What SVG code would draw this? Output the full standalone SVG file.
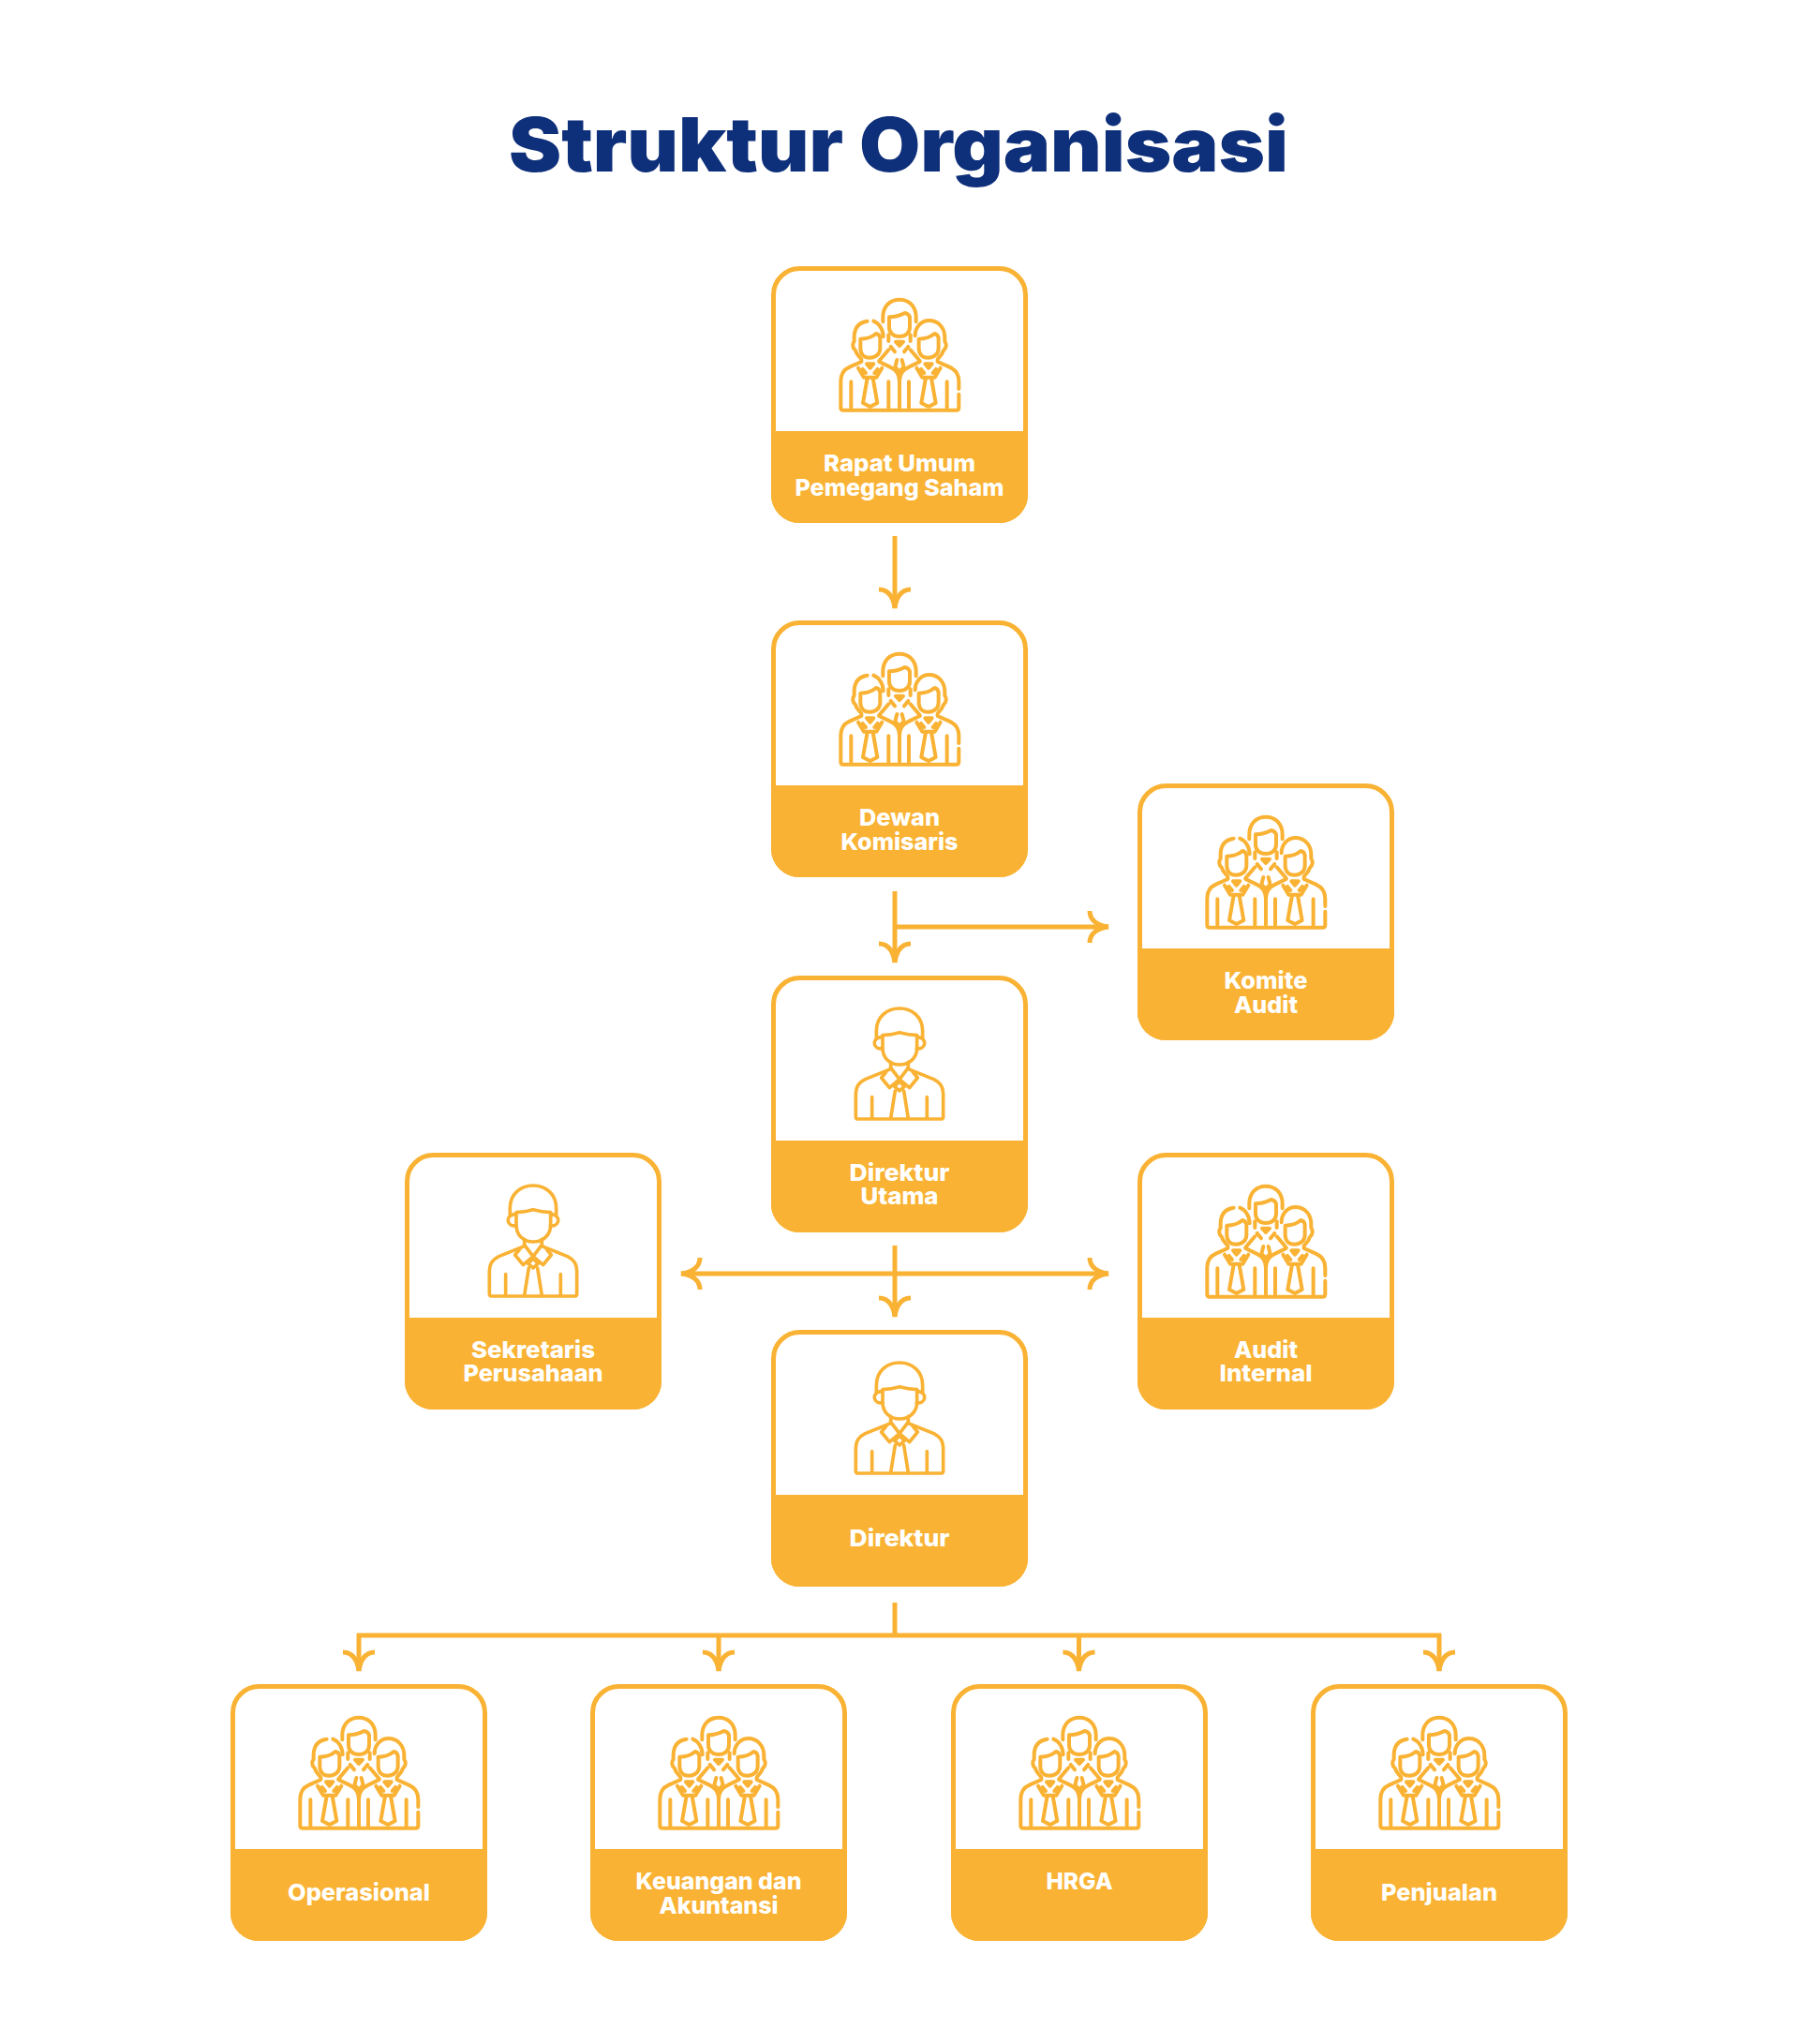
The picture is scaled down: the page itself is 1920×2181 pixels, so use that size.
<svg xmlns="http://www.w3.org/2000/svg" width="1920" height="2181" viewBox="0 0 1920 2181">
<style>
.title{font-family:"Inter","Liberation Sans",sans-serif;font-weight:900;font-size:80px;fill:#0e2f7a;text-anchor:middle}
.lbl{font-family:"Inter","Liberation Sans",sans-serif;font-weight:800;font-size:25px;fill:#fff;text-anchor:middle}
.box{fill:#fff;stroke:#f9b233;stroke-width:5}
.band{fill:#f9b233}
.ic{fill:none;stroke:#f9b233;stroke-width:11;stroke-linejoin:round;stroke-linecap:round}
.cn{fill:none;stroke:#f9b233;stroke-width:5}
</style>
<defs>
<marker id="head" viewBox="-24 -20 28 40" refX="0" refY="0" markerWidth="28" markerHeight="40" markerUnits="userSpaceOnUse" orient="auto-start-reverse" overflow="visible">
<path d="M-20,-17C-20,-6 -10,-1 0,0C-10,1 -20,6 -20,17" fill="none" stroke="#f9b233" stroke-width="5"/>
</marker>
<g id="card">
<rect class="box" x="2.5" y="2.500" width="269" height="269" rx="28"/>
<path class="band" d="M0,176H274V244a30,30 0 0 1 -30,30H30a30,30 0 0 1 -30,-30Z"/>
</g>
<g id="single" transform="translate(-80 9) scale(.3333)">
<g class="ic">
<path d="M166,172V150C166,105 200,78 240,78C280,78 314,105 314,150V172"/>
<path d="M180,170C165,172 158,182 160,192C162,202 172,208 185,206"/>
<path d="M300,170C315,172 322,182 320,192C318,202 308,208 295,206"/>
<path d="M186,164Q215,162 240,155Q268,162 296,164V205C296,238 270,258 240,258C210,258 186,238 186,205Z"/>
<path d="M212,250V272L130,305C110,315 100,330 100,350V425Q100,432 108,432H372Q380,432 380,425V350C380,330 370,315 350,305L268,272V250"/>
<path d="M212,268L240,305L268,268M197,282L182,300L208,332L240,305L272,332L298,300L283,282"/>
<path d="M240,312L224,328L240,342L256,328Z"/>
<path d="M226,342L212,430M254,342L268,430M152,362V430M328,362V430"/>
</g>
</g>
<g id="group" transform="translate(-160 -14) scale(.3333)">
<g class="ic" style="stroke-width:12">
<path d="M427,220V205C427,170 450,149 480,149C510,149 533,170 533,205V220"/>
<path d="M447,205Q472,205 497,192Q510,195 513,205V238C513,255 500,267 480,267C460,267 447,255 447,238Z"/>
<path d="M445,262V282M515,262V282M468,284H492L480,297ZM452,300L465,316M508,300L495,316M472,342L466,365L480,380L494,365L488,342M415,345L445,310M545,345L515,310"/>
<path d="M377,218C350,222 335,240 335,270V283C328,290 330,305 338,310C342,325 350,330 358,340V348L320,365C300,374 292,388 292,410V495Q292,503 300,503H662Q670,503 670,495V452M670,435V410C670,388 660,374 640,365L602,348V340C612,330 618,322 622,310C630,305 632,290 625,283V270C625,240 605,216 575,216C550,216 530,236 530,265"/>
<path d="M397,218C415,225 428,245 428,268"/>
<path d="M355,275Q385,275 405,258Q416,260 418,272V305C418,322 405,335 385,335C365,335 355,322 355,305Z"/>
<path d="M542,275Q572,275 592,258Q603,260 605,272V305C605,322 592,335 572,335C552,335 542,322 542,305Z"/>
<path d="M415,348L450,365C470,374 480,388 480,410V495M545,348L510,365C490,374 480,388 480,410"/>
<path d="M375,355H397L386,368ZM562,355H584L573,368Z"/>
<path d="M348,368L366,398H406L424,368M535,368L553,398H593L611,368M362,372L372,384M410,372L400,384M549,372L559,384M597,372L587,384"/>
<path d="M377,400L363,480L386,492L409,480L395,400M564,400L550,480L573,492L596,480L582,400"/>
<path d="M325,495V412M445,495V412M510,495V412M632,495V412"/>
</g>
</g>
</defs>
<text class="title" x="959" y="183" textLength="832" lengthAdjust="spacingAndGlyphs">Struktur Organisasi</text>
<g id="connectors" class="cn">
<path d="M955,572V649" marker-end="url(#head)"/>
<path d="M955,951V1027" marker-end="url(#head)"/>
<path d="M955,989H1183" marker-end="url(#head)"/>
<path d="M955,1329V1405" marker-end="url(#head)"/>
<path d="M727,1359H1183" marker-start="url(#head)" marker-end="url(#head)"/>
<path d="M955,1710V1745"/>
<path d="M381,1745H1538"/>
<path d="M383,1743V1783" marker-end="url(#head)"/>
<path d="M767,1745V1783" marker-end="url(#head)"/>
<path d="M1151.500,1745V1783" marker-end="url(#head)"/>
<path d="M1536,1743V1783" marker-end="url(#head)"/>
</g>
<g id="n-rups" transform="translate(823 284)"><use href="#card"/><use href="#group" x="137"/><text class="lbl"><tspan x="137" y="219" textLength="162" lengthAdjust="spacingAndGlyphs">Rapat Umum</tspan><tspan x="137" y="244.500" textLength="223" lengthAdjust="spacingAndGlyphs">Pemegang Saham</tspan></text></g>
<g id="n-dewan" transform="translate(823 662)"><use href="#card"/><use href="#group" x="137"/><text class="lbl"><tspan x="137" y="219" textLength="86" lengthAdjust="spacingAndGlyphs">Dewan</tspan><tspan x="137" y="244.500" textLength="125" lengthAdjust="spacingAndGlyphs">Komisaris</tspan></text></g>
<g id="n-komite" transform="translate(1214 836)"><use href="#card"/><use href="#group" x="137"/><text class="lbl"><tspan x="137" y="219" textLength="89" lengthAdjust="spacingAndGlyphs">Komite</tspan><tspan x="137" y="244.500" textLength="68" lengthAdjust="spacingAndGlyphs">Audit</tspan></text></g>
<g id="n-dirut" transform="translate(823 1041)"><use href="#card"/><use href="#single" x="137"/><text class="lbl"><tspan x="137" y="219" textLength="107" lengthAdjust="spacingAndGlyphs">Direktur</tspan><tspan x="137" y="244" textLength="83" lengthAdjust="spacingAndGlyphs">Utama</tspan></text></g>
<g id="n-sekretaris" transform="translate(432 1230)"><use href="#card"/><use href="#single" x="137"/><text class="lbl"><tspan x="137" y="219" textLength="132" lengthAdjust="spacingAndGlyphs">Sekretaris</tspan><tspan x="137" y="244" textLength="149" lengthAdjust="spacingAndGlyphs">Perusahaan</tspan></text></g>
<g id="n-audit" transform="translate(1214 1230)"><use href="#card"/><use href="#group" x="137"/><text class="lbl"><tspan x="137" y="219" textLength="68" lengthAdjust="spacingAndGlyphs">Audit</tspan><tspan x="137" y="244" textLength="99" lengthAdjust="spacingAndGlyphs">Internal</tspan></text></g>
<g id="n-direktur" transform="translate(823 1419)"><use href="#card"/><use href="#single" x="137"/><text class="lbl" x="137" y="231" textLength="107" lengthAdjust="spacingAndGlyphs">Direktur</text></g>
<g id="n-ops" transform="translate(246 1797)"><use href="#card"/><use href="#group" x="137"/><text class="lbl" x="137" y="231" textLength="152" lengthAdjust="spacingAndGlyphs">Operasional</text></g>
<g id="n-keu" transform="translate(630 1797)"><use href="#card"/><use href="#group" x="137"/><text class="lbl"><tspan x="137" y="219" textLength="177" lengthAdjust="spacingAndGlyphs">Keuangan dan</tspan><tspan x="137" y="244.500" textLength="127" lengthAdjust="spacingAndGlyphs">Akuntansi</tspan></text></g>
<g id="n-hrga" transform="translate(1015 1797)"><use href="#card"/><use href="#group" x="137"/><text class="lbl" x="137" y="219" textLength="71" lengthAdjust="spacingAndGlyphs">HRGA</text></g>
<g id="n-jual" transform="translate(1399 1797)"><use href="#card"/><use href="#group" x="137"/><text class="lbl" x="137" y="231" textLength="124" lengthAdjust="spacingAndGlyphs">Penjualan</text></g>
</svg>
